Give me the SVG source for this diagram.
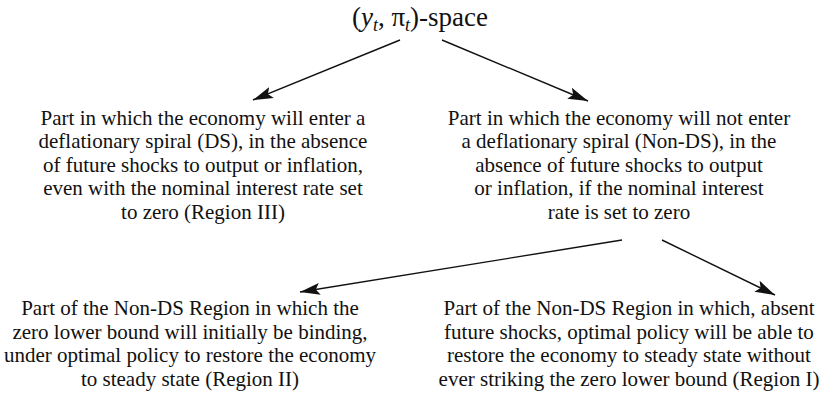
<svg xmlns="http://www.w3.org/2000/svg" width="839" height="396" viewBox="0 0 839 396">
<defs>
<style>
text{font-family:"Liberation Serif","Times New Roman",serif;font-size:21px;fill:#111;text-anchor:middle}
.title{font-size:27px}
.sub{font-size:18px;font-style:italic}
.conn line{stroke:#111;stroke-width:1.4;fill:none;marker-end:url(#ah)}
</style>
<marker id="ah" markerUnits="userSpaceOnUse" markerWidth="22" markerHeight="14" refX="20" refY="6" orient="auto" viewBox="0 0 22 12">
<path d="M0,0 L20,6 L0,12 L4,6 z" fill="#111"/>
</marker>
</defs>
<rect width="839" height="396" fill="#fff"/>
<g id="root">
<text class="title" x="420" y="26">(<tspan font-style="italic">y</tspan><tspan class="sub" dy="5">t</tspan><tspan dy="-5">, π</tspan><tspan class="sub" dy="5">t</tspan><tspan dy="-5">)-space</tspan></text>
</g>
<g id="ds">
<text x="203" y="124.5">Part in which the economy will enter a</text>
<text x="203" y="148">deflationary spiral (DS), in the absence</text>
<text x="203" y="171.5">of future shocks to output or inflation,</text>
<text x="203" y="195">even with the nominal interest rate set</text>
<text x="203" y="218.5">to zero (Region III)</text>
</g>
<g id="nonds">
<text x="619" y="124.5">Part in which the economy will not enter</text>
<text x="619" y="148">a deflationary spiral (Non-DS), in the</text>
<text x="619" y="171.5">absence of future shocks to output</text>
<text x="619" y="195">or inflation, if the nominal interest</text>
<text x="619" y="218.5">rate is set to zero</text>
</g>
<g id="region2">
<text x="190" y="315">Part of the Non-DS Region in which the</text>
<text x="190" y="338.5">zero lower bound will initially be binding,</text>
<text x="190" y="362">under optimal policy to restore the economy</text>
<text x="190" y="385.5">to steady state (Region II)</text>
</g>
<g id="region1">
<text x="629" y="315">Part of the Non-DS Region in which, absent</text>
<text x="629" y="338.5">future shocks, optimal policy will be able to</text>
<text x="629" y="362">restore the economy to steady state without</text>
<text x="629" y="385.5">ever striking the zero lower bound (Region I)</text>
</g>
<g id="connectors" class="conn">
<line x1="400" y1="40" x2="253" y2="100"/>
<line x1="442" y1="40" x2="588" y2="101"/>
<line x1="622" y1="240" x2="300" y2="292"/>
<line x1="662" y1="240" x2="775" y2="295"/>
</g>
</svg>
